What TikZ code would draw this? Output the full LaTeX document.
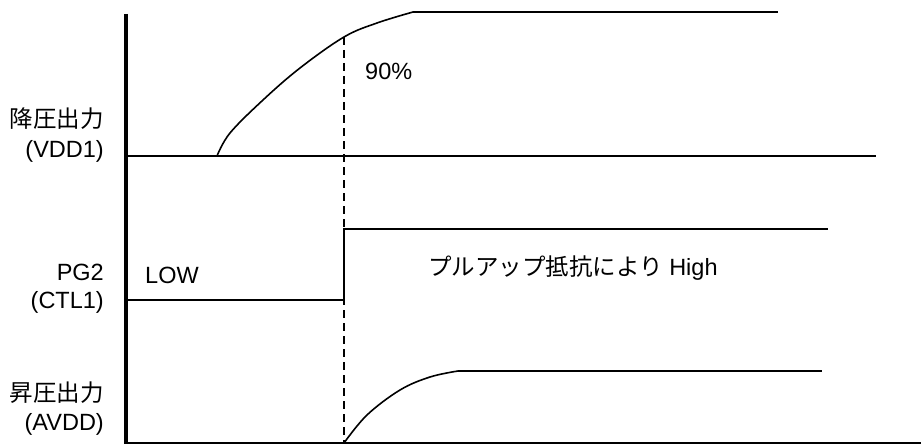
\documentclass[tikz,border=0pt]{standalone}
\usepackage{fontspec}
\setmainfont{Liberation Sans}
\newfontfamily\jpfont{Noto Sans CJK JP}

\begin{document}
\begin{tikzpicture}[x=1pt, y=-1pt,
    lbl/.style={inner sep=0pt, font=\fontsize{23.5}{28}\selectfont},
    sig/.style={line width=2pt},
    curve/.style={line width=1.6pt},
    guide/.style={line width=1.5pt, dash pattern=on 8pt off 5pt}]
    % Parameters
        \def\ax{126} % time axis
        \def\tn{344} % 90% instant
        \def\lx{104} % right edge of the signal names
    \useasboundingbox (0,0) rectangle (921,444);

        % Time axis
        \draw[line width=3.2pt] (\ax,14) -- (\ax,444);

        % Step-down output (VDD1)
        \coordinate (vdd0) at (\ax,156);
        \coordinate (vddE) at (876,156);
        \coordinate (vddS) at (217,156);
        \coordinate (vdd90) at (\tn,37);
        \coordinate (vddT) at (413,12);
        \coordinate (vddF) at (778,12);
        \draw[sig] (vdd0) -- (vddE);
        \draw[curve] plot[smooth, tension=0.6] coordinates {(217,156) (230,133) (263,100) (300,68) (\tn,37) (377,23) (413,12)};
        \draw[sig] (vddT) -- (vddF);

        % PG2 (CTL1)
        \coordinate (pg0) at (\ax,300);
        \coordinate (pgL) at (\tn,300);
        \coordinate (pgH) at (\tn,229);
        \coordinate (pgE) at (828,229);
        \draw[sig] (pg0) -- (pgL) -- (pgH) -- (pgE);

        % Step-up output (AVDD)
        \coordinate (av0) at (\ax,443);
        \coordinate (avE) at (921,443);
        \coordinate (avS) at (\tn,443);
        \coordinate (avT) at (458,371);
        \coordinate (avF) at (822,371);
        \draw[sig] (av0) -- (avE);
        \draw[curve] plot[smooth, tension=0.6] coordinates {(\tn,443) (367,415) (400,390) (430,377) (458,371)};
        \draw[sig] (avT) -- (avF);

        % 90% marker
        \coordinate (mk) at (\tn,444);
        \draw[guide] (vdd90) -- (mk);

        % Labels
        \node[lbl, anchor=base east] (vddname) at (\lx,127) {\jpfont 降圧出力};
        \node[lbl, anchor=base east] (vddpin) at (\lx,157) {(VDD1)};
        \node[lbl, anchor=base east] (pgname) at (\lx,280) {PG2};
        \node[lbl, anchor=base east] (pgpin) at (\lx,308) {(CTL1)};
        \node[lbl, anchor=base east] (avname) at (\lx,401) {\jpfont 昇圧出力};
        \node[lbl, anchor=base east] (avpin) at (\lx,430) {(AVDD)};
        \node[lbl, anchor=base west] (pct) at (365,80) {90\%};
        \node[lbl, anchor=base west] (low) at (145,283) {LOW};
        \node[lbl, anchor=base west] (high) at (428,275) {{\jpfont プルアップ抵抗により} High};
    \end{tikzpicture}
\end{document}
